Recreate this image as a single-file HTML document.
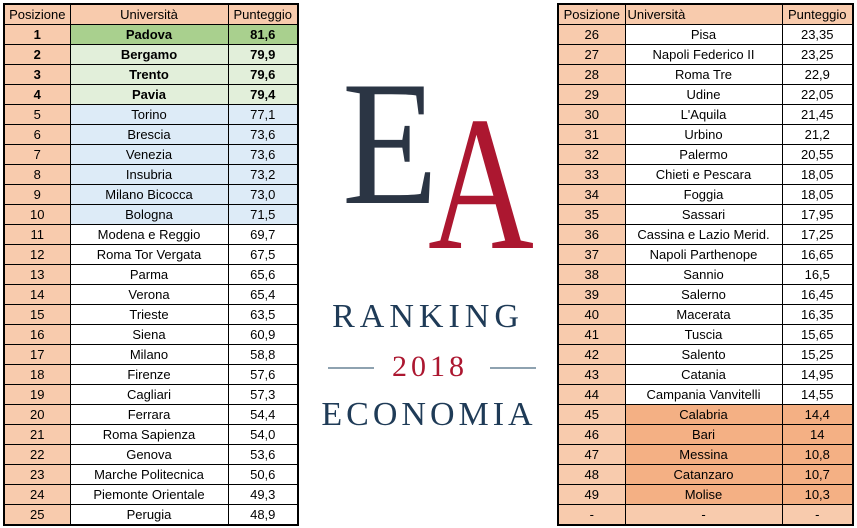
<!DOCTYPE html>
<html><head><meta charset="utf-8"><style>
body{margin:0;width:857px;height:528px;background:#fff;position:relative;overflow:hidden;font-family:"Liberation Sans",sans-serif;}
table{position:absolute;border-collapse:collapse;font-size:13px;color:#000;}
td{border:1px solid #000;height:19px;padding:0;text-align:center;line-height:19px;white-space:nowrap;overflow:hidden;}
#lt{left:3px;top:3px;border:2px solid #000;}
#rt{left:557px;top:3px;border:2px solid #000;}
.p{background:#F8CBAD;}
.g1{background:#A9D08E;font-weight:bold;}
.g2{background:#E2EFDA;font-weight:bold;}
.b{background:#DDEBF7;}
.o{background:#F4B084;}
.hd td{background:#F8CBAD;}
</style></head><body>
<table id="lt"><colgroup><col style="width:66px"><col style="width:158px"><col style="width:70px"></colgroup><tbody id="lb"></tbody></table>
<table id="rt"><colgroup><col style="width:67px"><col style="width:157px"><col style="width:71px"></colgroup><tbody id="rb"></tbody></table>
<svg style="position:absolute;left:300px;top:0" width="256" height="528">
<text x="42" y="203" font-family="Liberation Serif" font-size="178" textLength="96" lengthAdjust="spacingAndGlyphs" fill="#2b3544">E</text>
<text x="128" y="248" font-family="Liberation Serif" font-size="192" textLength="106" lengthAdjust="spacingAndGlyphs" fill="#ac1730">A</text>
<text x="128" y="327" text-anchor="middle" font-family="Liberation Serif" font-size="34" letter-spacing="5" fill="#1f3b57">RANKING</text>
<line x1="28" y1="368" x2="74" y2="368" stroke="#4a6a80" stroke-width="1.2"/>
<line x1="190" y1="368" x2="236" y2="368" stroke="#4a6a80" stroke-width="1.2"/>
<text x="130" y="376" text-anchor="middle" font-family="Liberation Serif" font-size="30" letter-spacing="4" fill="#ac1730">2018</text>
<text x="129" y="425" text-anchor="middle" font-family="Liberation Serif" font-size="34" letter-spacing="4" fill="#1f3b57">ECONOMIA</text>
</svg>
<script>
const leftNames=["Padova","Bergamo","Trento","Pavia","Torino","Brescia","Venezia","Insubria","Milano Bicocca","Bologna","Modena e Reggio","Roma Tor Vergata","Parma","Verona","Trieste","Siena","Milano","Firenze","Cagliari","Ferrara","Roma Sapienza","Genova","Marche Politecnica","Piemonte Orientale","Perugia"];
const leftScores=["81,6","79,9","79,6","79,4","77,1","73,6","73,6","73,2","73,0","71,5","69,7","67,5","65,6","65,4","63,5","60,9","58,8","57,6","57,3","54,4","54,0","53,6","50,6","49,3","48,9"];
const rightNames=["Pisa","Napoli Federico II","Roma Tre","Udine","L'Aquila","Urbino","Palermo","Chieti e Pescara","Foggia","Sassari","Cassina e Lazio Merid.","Napoli Parthenope","Sannio","Salerno","Macerata","Tuscia","Salento","Catania","Campania Vanvitelli","Calabria","Bari","Messina","Catanzaro","Molise","-"];
const rightScores=["23,35","23,25","22,9","22,05","21,45","21,2","20,55","18,05","18,05","17,95","17,25","16,65","16,5","16,45","16,35","15,65","15,25","14,95","14,55","14,4","14","10,8","10,7","10,3","-"];
function build(tb,start,names,scores,isLeft){
  const h=document.createElement('tr');h.className='hd';
  
  
  ['Posizione','Università','Punteggio'].forEach((t,i)=>{const c=document.createElement('td');c.textContent=t;
    
    
    if(!isLeft&&i==1){c.style.textAlign='left';c.style.paddingLeft='2px';}
    h.appendChild(c);});
  tb.appendChild(h);
  names.forEach((n,i)=>{
    const pos=start+i;const tr=document.createElement('tr');
    
    
    let cls='';
    if(isLeft){if(pos==1)cls='g1';else if(pos<=4)cls='g2';else if(pos<=10)cls='b';}
    else{if(n=='-')cls='p';else if(pos>=45)cls='o';}
    const vals=[n=='-'?'-':String(pos),n,scores[i]];
    vals.forEach((v,j)=>{const c=document.createElement('td');c.textContent=v;
      
      
      if(j==0){c.className='p';if(isLeft&&pos<=4)c.style.fontWeight='bold';}
      else if(cls)c.className=cls;
      tr.appendChild(c);});
    tb.appendChild(tr);
  });
}
build(document.getElementById('lb'),1,leftNames,leftScores,true);
build(document.getElementById('rb'),26,rightNames,rightScores,false);
</script>
</body></html>
